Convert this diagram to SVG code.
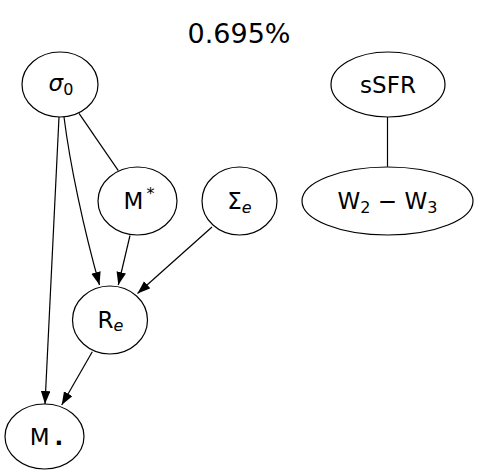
<svg xmlns="http://www.w3.org/2000/svg" width="479" height="475" viewBox="0 0 479 475">
<style>
.n ellipse{fill:#fff;stroke:#000;stroke-width:1.2}
text{font-family:"DejaVu Sans","Liberation Sans",sans-serif;fill:#000}
.l{font-size:23px;text-anchor:middle}
.sub{font-size:16px}
.it{font-style:italic}
#edges path{fill:none;stroke:#000;stroke-width:1.2}
</style>
<defs>
<marker id="ah" markerUnits="userSpaceOnUse" markerWidth="14" markerHeight="11" refX="13" refY="4.8" orient="auto">
<path d="M0,0 L13,4.8 L0,9.6 z" fill="#000"/>
</marker>
</defs>
<rect width="479" height="475" fill="#fff"/>
<text x="239" y="43" font-size="27" text-anchor="middle">0.695%</text>
<g id="edges">
<path d="M79,113.3 L118.3,170.7"/>
<path d="M64,117 C70,165 84,230 99.5,285" marker-end="url(#ah)"/>
<path d="M59,117 L45,404" marker-end="url(#ah)"/>
<path d="M130,235.5 L118.3,285" marker-end="url(#ah)"/>
<path d="M212,227 L137.5,293.5" marker-end="url(#ah)"/>
<path d="M92.3,351.7 L61.7,405" marker-end="url(#ah)"/>
<path d="M387.5,116.7 L387.5,166.7"/>
</g>
<g id="sigma0" class="n"><ellipse cx="60" cy="84.5" rx="38" ry="32.5"/><text class="l" x="61" y="91"><tspan class="it">σ</tspan><tspan class="sub" dy="4">0</tspan></text></g>
<g id="sSFR" class="n"><ellipse cx="388" cy="84.5" rx="57" ry="32.5"/><text class="l" x="388" y="92.5">sSFR</text></g>
<g id="Mstar" class="n"><ellipse cx="137.5" cy="201" rx="39.5" ry="34"/><text class="l" x="139" y="209">M<tspan class="sub" dx="3" dy="-10">*</tspan></text></g>
<g id="Sigmae" class="n"><ellipse cx="239.5" cy="201" rx="37.5" ry="34"/><text class="l" x="239.5" y="209">Σ<tspan class="sub it" dy="4">e</tspan></text></g>
<g id="W2W3" class="n"><ellipse cx="387.5" cy="201" rx="85.5" ry="34"/><text class="l" x="387.5" y="209">W<tspan class="sub" dy="4">2</tspan><tspan dy="-4"> − W</tspan><tspan class="sub" dy="4">3</tspan></text></g>
<g id="Re" class="n"><ellipse cx="110" cy="320" rx="37.5" ry="34"/><text class="l" x="110.5" y="328">R<tspan class="sub it" dy="3">e</tspan></text></g>
<g id="Mbh" class="n"><ellipse cx="44.5" cy="436.5" rx="39.5" ry="32.5"/><text class="l" x="46.5" y="445">M<tspan dx="5" font-weight="bold">.</tspan></text></g>
</svg>
